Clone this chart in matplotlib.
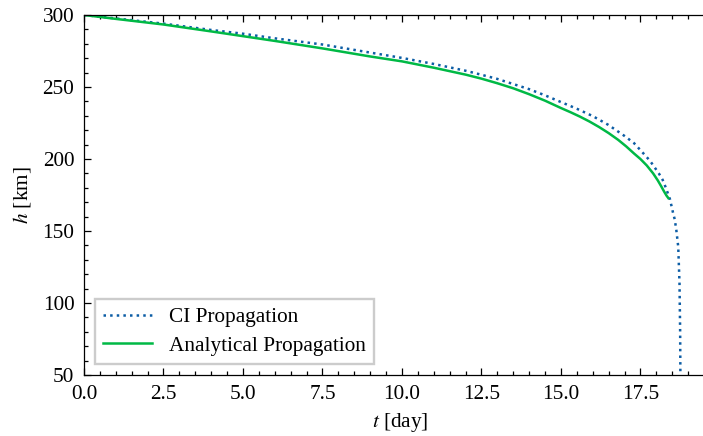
import matplotlib
matplotlib.use("Agg")
import matplotlib.pyplot as plt
from matplotlib.ticker import MultipleLocator

# values
t_ci = [0.0, 1.0, 2.5, 4.0, 5.0, 6.0, 7.5, 9.0, 10.0, 11.0, 12.0, 12.5, 13.0, 14.0,
        14.5, 15.07, 15.5, 16.0, 16.49, 17.0, 17.3, 17.54, 17.8, 18.08, 18.2, 18.3,
        18.43, 18.53, 18.58, 18.63, 18.69, 18.73, 18.75, 18.76]
h_ci = [300, 297.6, 294.0, 289.6, 287.0, 283.8, 279.5, 273.9, 270.2, 266.0, 261.3, 258.5,
        255.6, 248.5, 244.2, 238.9, 234.9, 229.8, 223.7, 216.0, 211.0, 205.2, 198.8,
        190.0, 185.5, 180.0, 172.0, 162.3, 158.0, 150.6, 139.0, 113.5, 80.0, 40.0]

t_an = [0.0, 1.0, 2.5, 4.0, 5.0, 6.0, 7.5, 9.0, 10.0, 11.0, 12.0, 12.5, 13.0, 13.5,
        14.0, 14.5, 15.0, 15.3, 15.6, 15.9, 16.2, 16.5, 16.8, 17.05, 17.3, 17.5, 17.7,
        17.9, 18.05, 18.15, 18.25, 18.32, 18.38]
h_an = [300, 297.3, 293.4, 288.6, 285.3, 282.0, 276.8, 271.2, 267.8, 263.4, 258.6, 255.8,
        252.6, 249.1, 245.0, 240.5, 235.4, 232.5, 229.4, 226.0, 222.2, 218.0, 213.3,
        208.8, 203.8, 200.0, 195.5, 190.0, 185.0, 181.2, 177.2, 174.6, 172.8]

plt.rcParams['font.family'] = ['Liberation Serif', 'DejaVu Serif']
plt.rcParams['mathtext.fontset'] = 'stix'
plt.rcParams['font.size'] = 15.3

fig = plt.figure(figsize=(7.03, 4.36), dpi=100)
ax = fig.add_axes([0.1195, 0.14, 0.9, 0.8256])

ax.plot(t_ci, h_ci, linestyle=':', color='#0C5DA5', lw=1.8, label='CI Propagation')
ax.plot(t_an, h_an, linestyle='-', color='#00B945', lw=1.8, label='Analytical Propagation')

ax.set_xlim(0, 19.9)
ax.set_ylim(50, 300)
ax.xaxis.set_major_locator(MultipleLocator(2.5))
ax.xaxis.set_minor_locator(MultipleLocator(0.5))
ax.yaxis.set_major_locator(MultipleLocator(50))
ax.yaxis.set_minor_locator(MultipleLocator(10))
ax.tick_params(which='both', direction='in', top=True, right=True, width=0.9)
ax.tick_params(which='major', length=5.2, pad=7)
ax.tick_params(which='minor', length=2.6)
for s in ax.spines.values():
    s.set_linewidth(0.9)

ax.set_xlabel(r'$t$ [day]', labelpad=5)
ax.set_ylabel(r'$h$ [km]', labelpad=7)

leg = ax.legend(loc='lower left', fancybox=False, edgecolor='0.8', handlelength=2.3,
                framealpha=1, labelspacing=0.4)
leg.get_frame().set_linewidth(1.7)

plt.savefig('out.png', dpi=100)
